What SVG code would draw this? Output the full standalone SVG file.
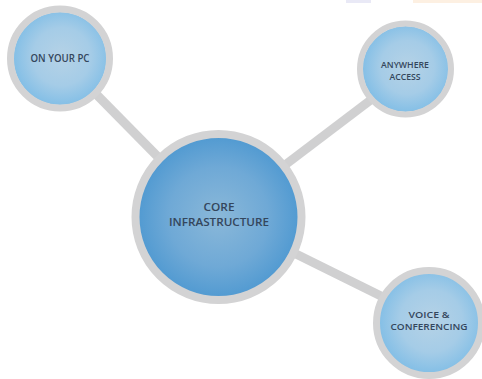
<svg xmlns="http://www.w3.org/2000/svg" width="482" height="379" viewBox="0 0 482 379">
<style>
.ring{fill:none;stroke:#d3d3d4}
.t{font-family:"Open Sans","Liberation Sans",sans-serif;fill:#34465c;text-anchor:middle;font-weight:600}
.link{stroke:#d0d0d1;stroke-width:9;fill:none}
</style>
<defs>
<radialGradient id="small" cx="0.52" cy="0.48" r="0.52"><stop offset="0" stop-color="#b5d2e6"/><stop offset="0.6" stop-color="#a5cce7"/><stop offset="1" stop-color="#84bfe6"/></radialGradient>
<radialGradient id="core" cx="0.5" cy="0.5" r="0.52"><stop offset="0" stop-color="#8ab8d9"/><stop offset="0.6" stop-color="#6fa9d6"/><stop offset="1" stop-color="#4f99d1"/></radialGradient>
</defs>
<rect width="482" height="379" fill="#fff"/>
<rect x="346" y="0" width="25" height="3" fill="#e9e9f6"/>
<rect x="413" y="0" width="69" height="3" fill="#fdf0e2"/>
<g id="connectors">
<line class="link" x1="97" y1="95" x2="160" y2="159"/>
<line class="link" x1="372" y1="99" x2="285" y2="165"/>
<line class="link" x1="296" y1="254" x2="385" y2="298"/>
</g>
<g id="node-pc">
<circle cx="60" cy="58.5" r="46.5" fill="url(#small)"/>
<circle class="ring" cx="60" cy="58.5" r="49.5" stroke-width="7"/>
<text class="t" x="60" y="61.5" font-size="10.2" textLength="59" lengthAdjust="spacingAndGlyphs">ON YOUR PC</text>
</g>
<g id="node-anywhere">
<circle cx="405.5" cy="69" r="43" fill="url(#small)"/>
<circle class="ring" cx="405.5" cy="69" r="45.5" stroke-width="6"/>
<text class="t" x="405" y="68" font-size="9" textLength="48" lengthAdjust="spacingAndGlyphs">ANYWHERE</text>
<text class="t" x="405" y="79.5" font-size="9" textLength="31" lengthAdjust="spacingAndGlyphs">ACCESS</text>
</g>
<g id="node-core">
<circle cx="218.5" cy="217" r="80" fill="url(#core)"/>
<circle class="ring" cx="218.5" cy="217" r="83" stroke-width="8"/>
<text class="t" x="219" y="211" font-size="11.4" textLength="31" lengthAdjust="spacingAndGlyphs">CORE</text>
<text class="t" x="219" y="225.5" font-size="11.4" textLength="100" lengthAdjust="spacingAndGlyphs">INFRASTRUCTURE</text>
</g>
<g id="node-voice">
<circle cx="429" cy="323" r="50" fill="url(#small)"/>
<circle class="ring" cx="429" cy="323" r="52.5" stroke-width="7"/>
<text class="t" x="429" y="317.5" font-size="9.6" textLength="41" lengthAdjust="spacingAndGlyphs">VOICE &amp;</text>
<text class="t" x="429" y="330" font-size="9.6" textLength="77" lengthAdjust="spacingAndGlyphs">CONFERENCING</text>
</g>
</svg>
